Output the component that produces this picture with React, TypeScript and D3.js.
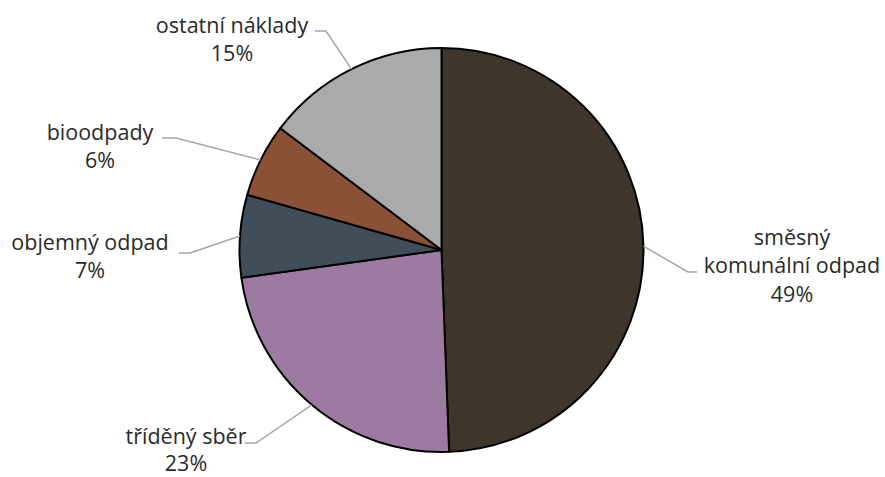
import React from "react";
import * as d3 from "d3";

const categories = ["směsný komunální odpad", "tříděný sběr", "objemný odpad", "bioodpady", "ostatní náklady"];
const values = [49.4, 23.4, 6.6, 5.9, 14.7];
const percentLabels = ["49%", "23%", "7%", "6%", "15%"];
const colors = ["#3e362b", "#9c7aa1", "#3f4e59", "#8b5137", "#a8aaab"];

// label layout: text lines, text center, elbow and line end
const labelLines = [["směsný", "komunální odpad"], ["tříděný sběr"], ["objemný odpad"], ["bioodpady"], ["ostatní náklady"]];
const labelLayout = [
  { cx: 792, y0: 239, elbow: [688, 272], end: [697, 272] },
  { cx: 186, y0: 438, elbow: [256, 443], end: [245, 443] },
  { cx: 90, y0: 244, elbow: [190, 253], end: [179, 253] },
  { cx: 100, y0: 134, elbow: [176, 138], end: [162, 138] },
  { cx: 232, y0: 27, elbow: [326, 31], end: [315, 31] },
];

export default function App() {
  const W = 885, H = 477;
  const cx = 441.5, cy = 250, r = 202;
  const pie = d3.pie<number>().sort(null).value((d) => d);
  const arcs = pie(values);
  const arc = d3.arc<d3.PieArcDatum<number>>().innerRadius(0).outerRadius(r);
  return (
    <svg width={W} height={H} style={{ position: "absolute", left: 0, top: 0, background: "#fff" }}>
      <g transform={`translate(${cx},${cy})`}>
        {arcs.map((a, i) => (
          <path key={i} d={arc(a) || ""} fill={colors[i]} stroke="#000" strokeWidth={2} strokeLinejoin="round" />
        ))}
      </g>
      {arcs.map((a, i) => {
        const mid = (a.startAngle + a.endAngle) / 2;
        const px = cx + r * Math.sin(mid);
        const py = cy - r * Math.cos(mid);
        const L = labelLayout[i];
        const lines = [...labelLines[i], percentLabels[i]];
        const lh = i === 1 ? 27 : 28.5;
        return (
          <g key={i}>
            <polyline
              points={`${px},${py} ${L.elbow[0]},${L.elbow[1]} ${L.end[0]},${L.end[1]}`}
              fill="none"
              stroke="#a6a6a6"
              strokeWidth={1.5}
            />
            <text
              textAnchor="middle"
              fontFamily="'Open Sans', Lato, sans-serif"
              fontSize={21.5}
              fill="#2a2a2a"
            >
              {lines.map((t, j) => (
                <tspan key={j} x={L.cx} y={L.y0 + j * lh} dominantBaseline="middle">
                  {t}
                </tspan>
              ))}
            </text>
          </g>
        );
      })}
    </svg>
  );
}
